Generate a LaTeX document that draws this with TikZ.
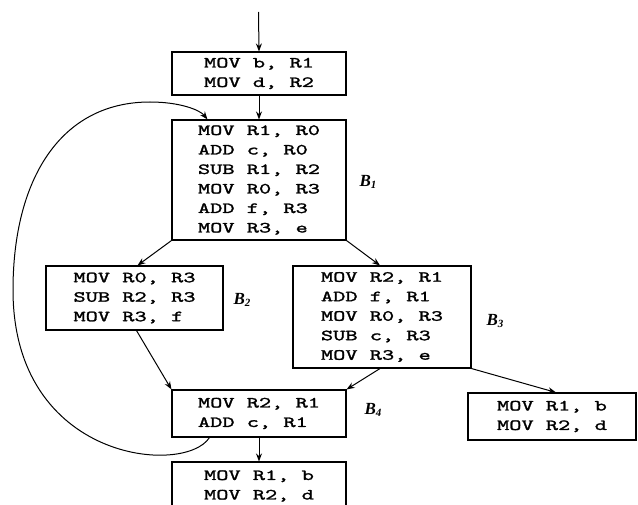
\documentclass[tikz,border=0pt]{standalone}
\usepackage{fontspec}
\usetikzlibrary{arrows.meta,calc}
\newfontfamily\codefont{lmmono10-regular.otf}[FakeStretch=1.5,FakeBold=1.6]
\newfontfamily\labfont{Liberation Serif}
\tikzset{
  blk/.style={draw, line width=1.1pt, rectangle, inner sep=0pt, align=left,
    font=\codefont\fontsize{15.5}{19.5}\selectfont},
  arr/.style={line width=1pt, -{Stealth[length=8pt,width=6pt]}},
  lab/.style={font=\labfont\bfseries\itshape\fontsize{17}{17}\selectfont}
}
\newcommand{\blab}[1]{B\raisebox{-0.35ex}{\fontsize{11}{11}\selectfont #1}}
\begin{document}
\begin{tikzpicture}[x=1pt,y=-1pt]
\useasboundingbox (0,0) rectangle (638,505);
\node[blk, minimum width=174pt, minimum height=43pt] (T) at (259,73.5) {MOV b, R1\\MOV d, R2};
\node[blk, minimum width=174pt, minimum height=120pt] (B1) at (259,180) {MOV R1, R0\\ADD c, R0\\SUB R1, R2\\MOV R0, R3\\ADD f, R3\\MOV R3, e};
\node[blk, minimum width=177pt, minimum height=64pt] (B2) at (134.5,298) {MOV R0, R3\\SUB R2, R3\\MOV R3, f};
\node[blk, minimum width=178pt, minimum height=102pt] (B3) at (382,317) {MOV R2, R1\\ADD f, R1\\MOV R0, R3\\SUB c, R3\\MOV R3, e};
\node[blk, minimum width=174pt, minimum height=47pt] (B4) at (259,413.5) {MOV R2, R1\\ADD c, R1};
\node[blk, minimum width=168pt, minimum height=47pt] (R) at (552,416.5) {MOV R1, b\\MOV R2, d};
\node[blk, minimum width=174pt, minimum height=48pt] (E) at (259,486) {MOV R1, b\\MOV R2, d};
\node[lab] (L1) at (368,182) {\blab{1}};
\node[lab] (L2) at (242,300) {\blab{2}};
\node[lab] (L3) at (495,321) {\blab{3}};
\node[lab] (L4) at (373,410) {\blab{4}};
\coordinate (start) at (258.5,12);
\draw[arr] (start) -- (T.north);
\draw[arr] (T.south) -- (B1.north);
\draw[arr] (B1.south west) -- ($(B2.north)+(3,0)$);
\draw[arr] (B1.south east) -- ($(B3.north)+(-2,0)$);
\draw[arr] ($(B2.south)+(2,0)$) -- (B4.north west);
\draw[arr] ($(B3.south)+(-2,0)$) -- (B4.north east);
\draw[arr] (B3.south east) -- ($(R.north)+(4,0)$);
\draw[arr] (B4.south) -- (E.north);
\coordinate (ls) at ($(B4.south west)+(38,0)$);
\coordinate (le) at ($(B1.north west)+(36,0)$);
\draw[arr] (ls) .. controls (185,476) and (13,462) .. (13,290)
  .. controls (13,180) and (60,102) .. (150,102)
  .. controls (180,102) and (200,110) .. (le);
\end{tikzpicture}
\end{document}
